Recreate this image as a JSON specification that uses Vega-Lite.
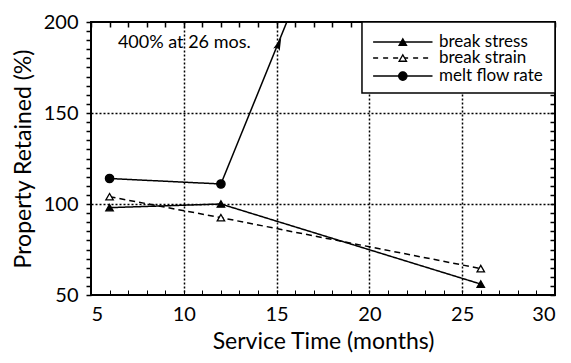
{
  "$schema": "https://vega.github.io/schema/vega-lite/v6.json",
  "width": 464,
  "height": 273,
  "autosize": "none",
  "padding": {"left": 91, "top": 22, "right": 16, "bottom": 68},
  "background": "white",
  "config": {
    "view": {"stroke": "black", "strokeWidth": 2},
    "font": "Lato"
  },
  "datasets": {
    "measured": [
      {"series": "break stress", "month": 6, "pct": 98},
      {"series": "break stress", "month": 12, "pct": 100},
      {"series": "break stress", "month": 26, "pct": 56},
      {"series": "break strain", "month": 6, "pct": 104},
      {"series": "break strain", "month": 12, "pct": 92.5},
      {"series": "break strain", "month": 26, "pct": 64.5},
      {"series": "melt flow rate", "month": 6, "pct": 114},
      {"series": "melt flow rate", "month": 12, "pct": 111}
    ],
    "meltArrow": [
      {"month": 12, "pct": 111},
      {"month": 15.55, "pct": 200}
    ],
    "note": [
      {"label": "400% at 26 mos.", "month": 6.45, "pct": 188.5}
    ],
    "arrowHead": [
      {"month": 15.12, "pct": 188}
    ],
    "one": [{}]
  },
  "layer": [
    {
      "data": {"name": "measured"},
      "mark": {"type": "line", "color": "black", "strokeWidth": 1.5},
      "encoding": {
        "x": {
          "field": "month", "type": "quantitative",
          "scale": {"domain": [5, 30], "nice": false, "zero": false},
          "axis": {
            "values": [5,6,7,8,9,10,11,12,13,14,15,16,17,18,19,20,21,22,23,24,25,26,27,28,29,30],
            "labelExpr": "datum.value % 5 === 0 ? datum.label : ''",
            "labelOverlap": false,
            "labelFontSize": 20, "labelColor": "black", "labelPadding": 14,
            "tickSize": -5, "tickColor": "black",
            "domain": false,
            "grid": true, "gridColor": "black", "gridDash": [2, 2], "gridWidth": 1.5,
            "gridOpacity": {"condition": {"test": "datum.value % 5 === 0 && datum.value > 5 && datum.value < 30", "value": 1}, "value": 0},
            "title": "Service Time (months)", "titleFontSize": 23, "titleFontWeight": "normal", "titleColor": "black", "titlePadding": 6
          }
        },
        "y": {
          "field": "pct", "type": "quantitative",
          "scale": {"domain": [50, 200], "nice": false, "zero": false},
          "axis": {
            "values": [50,55,60,65,70,75,80,85,90,95,100,105,110,115,120,125,130,135,140,145,150,155,160,165,170,175,180,185,190,195,200],
            "labelExpr": "datum.value % 50 === 0 ? datum.label : ''",
            "labelOverlap": false,
            "labelFontSize": 20, "labelColor": "black", "labelPadding": 8,
            "ticks": true, "tickSize": 5, "tickColor": "black", "tickWidth": 1.5,
            "domain": false,
            "grid": true, "gridColor": "black", "gridDash": [2, 2], "gridWidth": 1.5,
            "gridOpacity": {"condition": {"test": "datum.value % 50 === 0 && datum.value > 50 && datum.value < 200", "value": 1}, "value": 0},
            "title": "Property Retained (%)", "titleFontSize": 23, "titleFontWeight": "normal", "titleColor": "black", "titlePadding": 8
          }
        },
        "detail": {"field": "series"},
        "strokeDash": {
          "field": "series", "type": "nominal",
          "scale": {"domain": ["break stress", "break strain", "melt flow rate"], "range": [[1, 0], [6, 4], [1, 0]]},
          "legend": null
        }
      }
    },
    {
      "data": {"name": "meltArrow"},
      "mark": {"type": "line", "color": "black", "strokeWidth": 1.5, "clip": true},
      "encoding": {
        "x": {"field": "month", "type": "quantitative", "axis": {
          "orient": "top", "values": [5,6,7,8,9,10,11,12,13,14,15,16,17,18,19,20,21,22,23,24,25,26,27,28,29,30],
          "labels": false, "ticks": true, "tickSize": -5, "tickColor": "black", "tickWidth": 1.5, "domain": false, "grid": false, "title": null}},
        "y": {"field": "pct", "type": "quantitative", "axis": {
          "orient": "right", "values": [50,55,60,65,70,75,80,85,90,95,100,105,110,115,120,125,130,135,140,145,150,155,160,165,170,175,180,185,190,195,200],
          "labels": false, "ticks": true, "tickSize": -5, "tickColor": "black", "tickWidth": 1.5, "domain": false, "grid": false, "title": null}}
      }
    },
    {
      "data": {"name": "measured"},
      "mark": {"type": "point", "filled": true, "stroke": "black", "strokeWidth": 1.3, "opacity": 1},
      "encoding": {
        "x": {"field": "month", "type": "quantitative", "axis": null},
        "y": {"field": "pct", "type": "quantitative", "axis": null},
        "shape": {
          "field": "series", "type": "nominal",
          "scale": {"domain": ["break stress", "break strain", "melt flow rate"], "range": ["triangle-up", "triangle-up", "circle"]},
          "legend": null
        },
        "fill": {
          "field": "series", "type": "nominal",
          "scale": {"domain": ["break stress", "break strain", "melt flow rate"], "range": ["black", "white", "black"]},
          "legend": null
        },
        "size": {"condition": {"test": "datum.series === 'melt flow rate'", "value": 70}, "value": 55}
      }
    },
    {
      "data": {"name": "arrowHead"},
      "mark": {"type": "point", "filled": true, "color": "black", "opacity": 1, "angle": 22, "size": 160,
               "shape": "M0,-1L0.55,1L0,0.6L-0.55,1Z"},
      "encoding": {
        "x": {"field": "month", "type": "quantitative", "axis": null},
        "y": {"field": "pct", "type": "quantitative", "axis": null}
      }
    },
    {
      "data": {"name": "note"},
      "mark": {"type": "text", "align": "left", "baseline": "middle", "fontSize": 18, "color": "black"},
      "encoding": {
        "x": {"field": "month", "type": "quantitative", "axis": null},
        "y": {"field": "pct", "type": "quantitative", "axis": null},
        "text": {"field": "label"}
      }
    },
    {
      "data": {"name": "one"},
      "mark": {"type": "rect", "fill": "white", "stroke": "black", "strokeWidth": 1.5},
      "encoding": {
        "x": {"datum": 19.6, "type": "quantitative", "axis": null},
        "x2": {"datum": 30},
        "y": {"datum": 161, "type": "quantitative", "axis": null},
        "y2": {"datum": 200}
      }
    },
    {
      "data": {"name": "one"},
      "mark": {"type": "rule", "color": "black", "strokeWidth": 1.5},
      "encoding": {
        "x": {"datum": 20.2, "type": "quantitative", "axis": null},
        "x2": {"datum": 23.4},
        "y": {"datum": 189, "type": "quantitative", "axis": null}
      }
    },
    {
      "data": {"name": "one"},
      "mark": {"type": "rule", "color": "black", "strokeWidth": 1.5, "strokeDash": [5, 5]},
      "encoding": {
        "x": {"datum": 20.2, "type": "quantitative", "axis": null},
        "x2": {"datum": 23.4},
        "y": {"datum": 180.2, "type": "quantitative", "axis": null}
      }
    },
    {
      "data": {"name": "one"},
      "mark": {"type": "rule", "color": "black", "strokeWidth": 1.5},
      "encoding": {
        "x": {"datum": 20.2, "type": "quantitative", "axis": null},
        "x2": {"datum": 23.4},
        "y": {"datum": 170.3, "type": "quantitative", "axis": null}
      }
    },
    {
      "data": {"name": "one"},
      "mark": {"type": "point", "shape": "triangle-up", "filled": true, "fill": "black", "stroke": "black", "strokeWidth": 1.3, "size": 55, "opacity": 1},
      "encoding": {
        "x": {"datum": 21.8, "type": "quantitative", "axis": null},
        "y": {"datum": 189, "type": "quantitative", "axis": null}
      }
    },
    {
      "data": {"name": "one"},
      "mark": {"type": "point", "shape": "triangle-up", "filled": true, "fill": "white", "stroke": "black", "strokeWidth": 1.3, "size": 55, "opacity": 1},
      "encoding": {
        "x": {"datum": 21.8, "type": "quantitative", "axis": null},
        "y": {"datum": 180.2, "type": "quantitative", "axis": null}
      }
    },
    {
      "data": {"name": "one"},
      "mark": {"type": "point", "shape": "circle", "filled": true, "fill": "black", "stroke": "black", "strokeWidth": 1.3, "size": 70, "opacity": 1},
      "encoding": {
        "x": {"datum": 21.8, "type": "quantitative", "axis": null},
        "y": {"datum": 170.3, "type": "quantitative", "axis": null}
      }
    },
    {
      "data": {"name": "one"},
      "mark": {"type": "text", "text": "break stress", "align": "left", "baseline": "middle", "fontSize": 17, "color": "black"},
      "encoding": {
        "x": {"datum": 23.75, "type": "quantitative", "axis": null},
        "y": {"datum": 189, "type": "quantitative", "axis": null}
      }
    },
    {
      "data": {"name": "one"},
      "mark": {"type": "text", "text": "break strain", "align": "left", "baseline": "middle", "fontSize": 17, "color": "black"},
      "encoding": {
        "x": {"datum": 23.75, "type": "quantitative", "axis": null},
        "y": {"datum": 180.2, "type": "quantitative", "axis": null}
      }
    },
    {
      "data": {"name": "one"},
      "mark": {"type": "text", "text": "melt flow rate", "align": "left", "baseline": "middle", "fontSize": 17, "color": "black"},
      "encoding": {
        "x": {"datum": 23.75, "type": "quantitative", "axis": null},
        "y": {"datum": 170.3, "type": "quantitative", "axis": null}
      }
    }
  ],
  "resolve": {"axis": {"x": "independent", "y": "independent"}}
}
